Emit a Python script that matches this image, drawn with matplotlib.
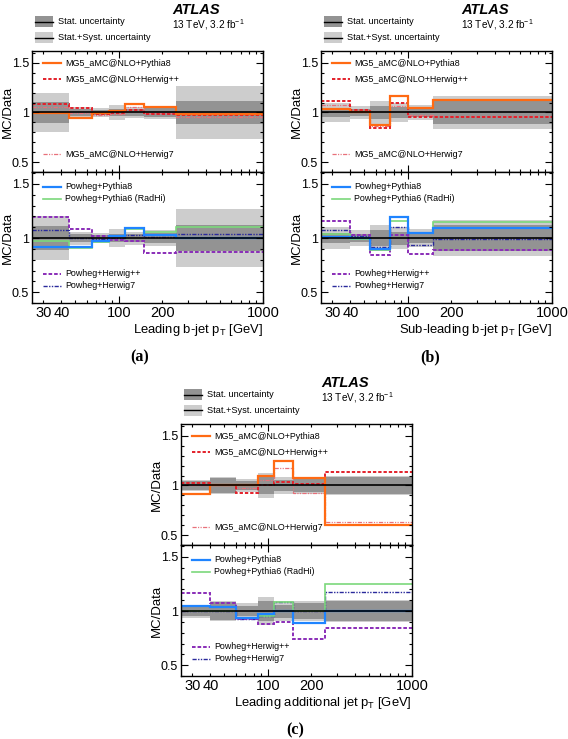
import matplotlib
matplotlib.use('Agg')
import matplotlib.pyplot as plt
from matplotlib.patches import Rectangle
from matplotlib.lines import Line2D
from matplotlib.ticker import FixedLocator, FuncFormatter

plt.rcParams['font.family'] = ['Liberation Sans', 'DejaVu Sans']
plt.rcParams['mathtext.fontset'] = 'custom'
plt.rcParams['mathtext.rm'] = 'Liberation Sans'
plt.rcParams['mathtext.it'] = 'Liberation Sans:italic'
plt.rcParams['mathtext.bf'] = 'Liberation Sans:bold'
plt.rcParams['mathtext.default'] = 'regular'
plt.rcParams['lines.scale_dashes'] = False

# --------------------------------------------------
# (a) leading b-jet pT
a_edges = [25, 45, 65, 85, 110, 150, 250, 1000]
a_stat = [0.11, 0.04, 0.03, 0.04, 0.04, 0.05, 0.12]
a_tot = [0.20, 0.06, 0.05, 0.08, 0.06, 0.07, 0.27]
a_mg_py8 = [0.99, 0.94, 0.99, 1.02, 1.09, 1.06, 0.985]
a_mg_hpp = [1.09, 1.05, 0.98, 0.99, 1.03, 0.98, 0.97]
a_mg_h7 = [1.06, 0.99, 0.97, 0.98, 1.06, 0.99, 0.95]
a_pw_py8 = [0.92, 0.92, 0.975, 1.015, 1.09, 1.025, 1.0]
a_pw_py6 = [0.97, 0.91, 0.965, 1.015, 1.085, 1.06, 1.105]
a_pw_hpp = [1.19, 1.085, 1.015, 0.985, 0.97, 0.86, 0.875]
a_pw_h7 = [1.07, 1.0, 0.99, 1.0, 1.03, 1.01, 1.035]

# (b) sub-leading b-jet pT
b_edges = [25, 40, 55, 75, 100, 150, 1000]
b_stat = [0.05, 0.04, 0.07, 0.06, 0.05, 0.12]
b_tot = [0.10, 0.07, 0.12, 0.10, 0.08, 0.17]
b_mg_py8 = [1.04, 1.0, 0.87, 1.17, 1.05, 1.13]
b_mg_hpp = [1.12, 1.03, 0.84, 1.10, 0.95, 0.95]
b_mg_h7 = [1.08, 1.02, 0.86, 1.07, 0.97, 0.96]
b_pw_py8 = [1.01, 1.0, 0.90, 1.19, 1.045, 1.09]
b_pw_py6 = [1.035, 0.99, 0.885, 1.16, 1.05, 1.145]
b_pw_hpp = [1.16, 1.025, 0.84, 1.025, 0.85, 0.89]
b_pw_h7 = [1.075, 1.015, 0.92, 1.10, 0.94, 0.995]

# (c) leading additional jet pT
c_edges = [25, 40, 60, 85, 110, 150, 250, 1000]
c_stat = [0.05, 0.08, 0.05, 0.09, 0.06, 0.07, 0.09]
c_tot = [0.06, 0.09, 0.07, 0.13, 0.09, 0.09, 0.10]
c_mg_py8 = [0.91, 1.01, 1.01, 1.10, 1.25, 1.08, 0.60]
c_mg_hpp = [1.025, 1.0, 0.92, 1.0, 1.035, 1.02, 1.135]
c_mg_h7 = [1.01, 1.0, 0.97, 1.06, 1.18, 0.925, 0.63]
c_pw_py8 = [1.05, 1.035, 0.94, 0.97, 1.0, 0.89, 1.0]
c_pw_py6 = [1.0, 1.0, 0.94, 0.95, 1.08, 1.0, 1.25]
c_pw_hpp = [1.165, 1.075, 0.925, 0.88, 0.90, 0.745, 0.84]
c_pw_h7 = [1.0, 1.0, 0.925, 0.95, 1.08, 1.0, 1.18]

mg_names = ['MG5_aMC@NLO+Pythia8', 'MG5_aMC@NLO+Herwig++', 'MG5_aMC@NLO+Herwig7']
pw_names = ['Powheg+Pythia8', 'Powheg+Pythia6 (RadHi)', 'Powheg+Herwig++', 'Powheg+Herwig7']

# style per generator
mg_styles = [dict(color='#ff6a13', lw=1.6, ls='-'),
             dict(color='#e3202a', lw=1.4, ls=(0, (2.4, 1.4))),
             dict(color='#e8707a', lw=0.9, ls=(0, (3, 1, 0.8, 1, 0.8, 1)))]
pw_styles = [dict(color='#1f84ff', lw=1.6, ls='-'),
             dict(color='#7bd87b', lw=1.2, ls='-'),
             dict(color='#8a2db8', lw=1.4, ls=(0, (2.6, 1.4))),
             dict(color='#2a2a9c', lw=1.0, ls=(0, (3, 1, 1, 1, 1, 1)))]

DARK = '#939393'
LIGHT = '#cdcdcd'
W, H = 568, 739


def fx(px):
    return px / W


def fy(py):
    return 1 - py / H


def style_axes(ax, xlabels):
    ax.set_xscale('log')
    ax.set_xlim(25, 1000)
    ax.xaxis.set_major_locator(FixedLocator([100, 1000]))
    ax.xaxis.set_minor_locator(FixedLocator([30, 40, 50, 60, 70, 80, 90,
                                             200, 300, 400, 500, 600, 700, 800, 900]))
    if xlabels:
        ax.xaxis.set_major_formatter(FuncFormatter(lambda v, p: '%d' % round(v)))
        ax.xaxis.set_minor_formatter(FuncFormatter(
            lambda v, p: '%d' % round(v) if round(v) in (30, 40, 200) else ''))
    else:
        ax.xaxis.set_major_formatter(FuncFormatter(lambda v, p: ''))
        ax.xaxis.set_minor_formatter(FuncFormatter(lambda v, p: ''))
    ax.set_yticks([0.5, 1, 1.5], ['0.5', '1', '1.5'])
    ax.yaxis.set_minor_locator(FixedLocator([0.4, 0.6, 0.7, 0.8, 0.9, 1.1, 1.2, 1.3, 1.4, 1.6]))
    ax.tick_params(which='both', direction='in', top=True, right=True, width=0.8,
                   labelsize=10.5, pad=2.5)
    ax.tick_params(which='major', length=5)
    ax.tick_params(which='minor', length=2.5)
    ax.tick_params(axis='y', labelsize=9, pad=2)
    for s in ax.spines.values():
        s.set_linewidth(1.0)
    ax.set_ylabel('MC/Data', fontsize=9.5)
    ax.yaxis.set_label_coords(-0.08, 0.5)


def draw_bands(ax, edges, stat, tot):
    up_t = [1 + t for t in tot]
    dn_t = [1 - t for t in tot]
    up_s = [1 + s for s in stat]
    dn_s = [1 - s for s in stat]
    ax.stairs(up_t, edges, baseline=dn_t, fill=True, color=LIGHT, lw=0)
    ax.stairs(up_s, edges, baseline=dn_s, fill=True, color=DARK, lw=0)
    ax.axhline(1, color='black', lw=1.2)


def legend_entry(ax, y, name, st):
    ax.add_line(Line2D([0.048, 0.125], [y, y], transform=ax.transAxes,
                       color=st['color'], lw=st['lw'], ls=st['ls']))
    ax.text(0.142, y, name, transform=ax.transAxes, fontsize=6.4, va='center')


def draw_panel(fig, x0, y0, edges, stat, tot, mg, pw, xlabel, tag, tag_x):
    hu, hl, w = 121, 131, 231
    axu = fig.add_axes([fx(x0), fy(y0 + hu), w / W, hu / H])
    axl = fig.add_axes([fx(x0), fy(y0 + hu + hl), w / W, hl / H])

    draw_bands(axu, edges, stat, tot)
    for vals, st in zip(mg[::-1], mg_styles[::-1]):
        axu.stairs(vals, edges, baseline=None, **st)
    axu.set_ylim(0.4, 1.62)
    style_axes(axu, False)
    legend_entry(axu, 0.900, mg_names[0], mg_styles[0])
    legend_entry(axu, 0.768, mg_names[1], mg_styles[1])
    legend_entry(axu, 0.145, mg_names[2], mg_styles[2])

    draw_bands(axl, edges, stat, tot)
    for vals, st in zip(pw[::-1], pw_styles[::-1]):
        axl.stairs(vals, edges, baseline=None, **st)
    axl.set_ylim(0.4, 1.61)
    style_axes(axl, True)
    legend_entry(axl, 0.886, pw_names[0], pw_styles[0])
    legend_entry(axl, 0.795, pw_names[1], pw_styles[1])
    legend_entry(axl, 0.222, pw_names[2], pw_styles[2])
    legend_entry(axl, 0.130, pw_names[3], pw_styles[3])

    # x label, right aligned
    fig.text(fx(x0 + w), fy(y0 + 279), xlabel, fontsize=9.4, ha='right', va='center')

    # header: uncertainty legend and ATLAS label
    dx, dy = x0 - 32, y0 - 51
    for (yt, col, txt) in [(16, DARK, 'Stat. uncertainty'),
                           (32, LIGHT, 'Stat.+Syst. uncertainty')]:
        fig.add_artist(Rectangle((fx(35 + dx), fy(yt + 11 + dy)), 18 / W, 11 / H,
                                 transform=fig.transFigure, color=col, lw=0))
        fig.add_artist(Line2D([fx(35 + dx), fx(53 + dx)], [fy(yt + 5.5 + dy)] * 2,
                              transform=fig.transFigure, color='black', lw=1.0))
        fig.text(fx(58 + dx), fy(yt + 5.5 + dy), txt, fontsize=6.6, va='center')
    fig.text(fx(172 + dx), fy(10 + dy), 'ATLAS', fontsize=10.5, fontweight='bold',
             fontstyle='italic', va='center')
    fig.text(fx(172 + dx), fy(25 + dy), '13 TeV, 3.2 fb$^{-1}$', fontsize=7.2, va='center')

    fig.text(fx(tag_x), fy(y0 + 306), tag, fontsize=11.5, fontweight='bold',
             family='Liberation Serif', ha='center', va='center')


fig = plt.figure(figsize=(W / 100, H / 100), dpi=100)

draw_panel(fig, 32, 51, a_edges, a_stat, a_tot,
           [a_mg_py8, a_mg_hpp, a_mg_h7], [a_pw_py8, a_pw_py6, a_pw_hpp, a_pw_h7],
           'Leading b-jet p$_{T}$ [GeV]', '(a)', 140)
draw_panel(fig, 321, 51, b_edges, b_stat, b_tot,
           [b_mg_py8, b_mg_hpp, b_mg_h7], [b_pw_py8, b_pw_py6, b_pw_hpp, b_pw_h7],
           'Sub-leading b-jet p$_{T}$ [GeV]', '(b)', 430)
draw_panel(fig, 181, 424, c_edges, c_stat, c_tot,
           [c_mg_py8, c_mg_hpp, c_mg_h7], [c_pw_py8, c_pw_py6, c_pw_hpp, c_pw_h7],
           'Leading additional jet p$_{T}$ [GeV]', '(c)', 295)

fig.savefig('out.png', dpi=100)
